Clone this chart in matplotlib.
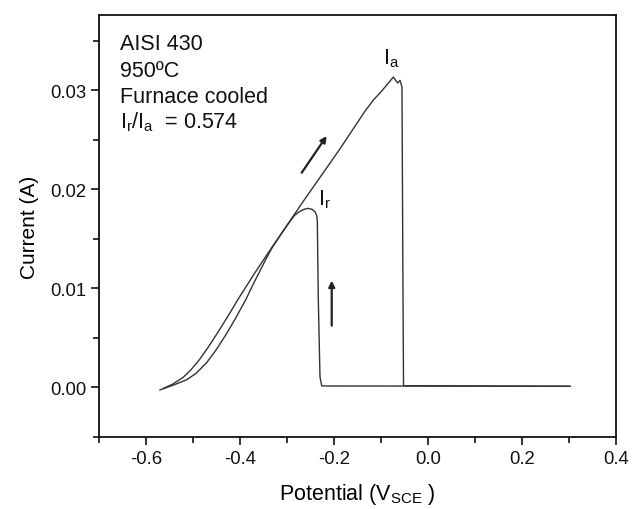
import matplotlib
matplotlib.use("Agg")
import matplotlib.pyplot as plt
from matplotlib.ticker import MultipleLocator

plt.rcParams['font.family'] = ['Liberation Sans', 'DejaVu Sans']
plt.rcParams['mathtext.fontset'] = 'custom'
plt.rcParams['mathtext.rm'] = 'Liberation Sans'
plt.rcParams['mathtext.it'] = 'Liberation Sans:italic'
plt.rcParams['axes.unicode_minus'] = False

# anodic (forward) scan
fwd_v = [-0.5641, -0.5435, -0.5215, -0.505, -0.4859, -0.465, -0.4433, -0.425,
         -0.4044, -0.37, -0.3326, -0.2623, -0.1878, -0.135, -0.117, -0.1022,
         -0.0876, -0.0742, -0.0649, -0.0600, -0.0558, -0.0536, -0.0525, 0.3021]
fwd_i = [-0.0001, 0.00035, 0.00103, 0.0018, 0.00288, 0.0043, 0.00591, 0.0073,
         0.00894, 0.0115, 0.01416, 0.01904, 0.02409, 0.02786, 0.0290, 0.02975,
         0.03056, 0.03133, 0.03073, 0.03099, 0.03032, 0.00894, 0.00018, 0.00012]

# reactivation (reverse) scan
rev_v = [0.3021, -0.2267, -0.2304, -0.2340, -0.2361, -0.2374, -0.2410, -0.2474,
         -0.2553, -0.2644, -0.2730, -0.2836, -0.2942, -0.3155, -0.3326, -0.345,
         -0.36, -0.375, -0.388, -0.41, -0.4291, -0.45, -0.4717, -0.495, -0.5143,
         -0.5392, -0.5711]
rev_i = [0.00012, 0.00015, 0.00106, 0.00894, 0.01682, 0.01735, 0.01773, 0.01798,
         0.01808, 0.01798, 0.01778, 0.01742, 0.01677, 0.01531, 0.01409, 0.0130,
         0.0116, 0.0102, 0.0089, 0.0070, 0.00545, 0.0039, 0.0025, 0.0014, 0.00078,
         0.0003, -0.00025]

info_lines = ["AISI 430", "950ºC", "Furnace cooled", r"I$_\mathrm{r}$/I$_\mathrm{a}$  = 0.574"]
info_y = [0.0342, 0.0314, 0.0288, 0.0263]

# scan direction arrows (tail, head)
arrow_tails = [(-0.2694, 0.02167), (-0.2054, 0.00624)]
arrow_heads = [(-0.2162, 0.02538), (-0.2054, 0.01079)]

fig = plt.figure(figsize=(6.32, 5.10), dpi=100)
ax = fig.add_axes([0.1574, 0.1412, 0.8173, 0.8275])

col = '#333333'
ax.plot(fwd_v, fwd_i, color=col, lw=1.0)
ax.plot(rev_v, rev_i, color=col, lw=1.0)

for t, h in zip(arrow_tails, arrow_heads):
    ax.annotate('', xy=h, xytext=t,
                arrowprops=dict(arrowstyle='-|>', color='#222222', lw=1.6,
                                mutation_scale=9, shrinkA=0, shrinkB=0))

for s, y in zip(info_lines, info_y):
    ax.text(-0.6563, y, s, fontsize=15.5, va='baseline', ha='left', color='#111111')

ax.text(-0.096, 0.03268, r"I$_\mathrm{a}$", fontsize=15.5, va='baseline', color='#111111')
ax.text(-0.2346, 0.01843, r"I$_\mathrm{r}$", fontsize=15.5, va='baseline', color='#111111')

ax.set_xlim(-0.7, 0.4)
ax.set_ylim(-0.005, 0.0376)
ax.xaxis.set_major_locator(MultipleLocator(0.2))
ax.xaxis.set_minor_locator(MultipleLocator(0.1))
ax.yaxis.set_major_locator(MultipleLocator(0.01))
ax.yaxis.set_minor_locator(MultipleLocator(0.005))
ax.xaxis.set_major_formatter(plt.FormatStrFormatter('%.1f'))
ax.yaxis.set_major_formatter(plt.FormatStrFormatter('%.2f'))

ax.tick_params(which='both', direction='out', width=1.2, colors='#111111',
               labelsize=13.3, top=False, right=False)
ax.tick_params(which='major', length=6)
ax.tick_params(which='minor', length=4)
for sp in ax.spines.values():
    sp.set_linewidth(1.3)
    sp.set_color('#111111')

ax.set_xlabel(r"Potential (V$_\mathrm{SCE}$ )", fontsize=15.5, labelpad=10)
ax.set_ylabel("Current (A)", fontsize=15, labelpad=8)

fig.savefig("out.png", dpi=100)
